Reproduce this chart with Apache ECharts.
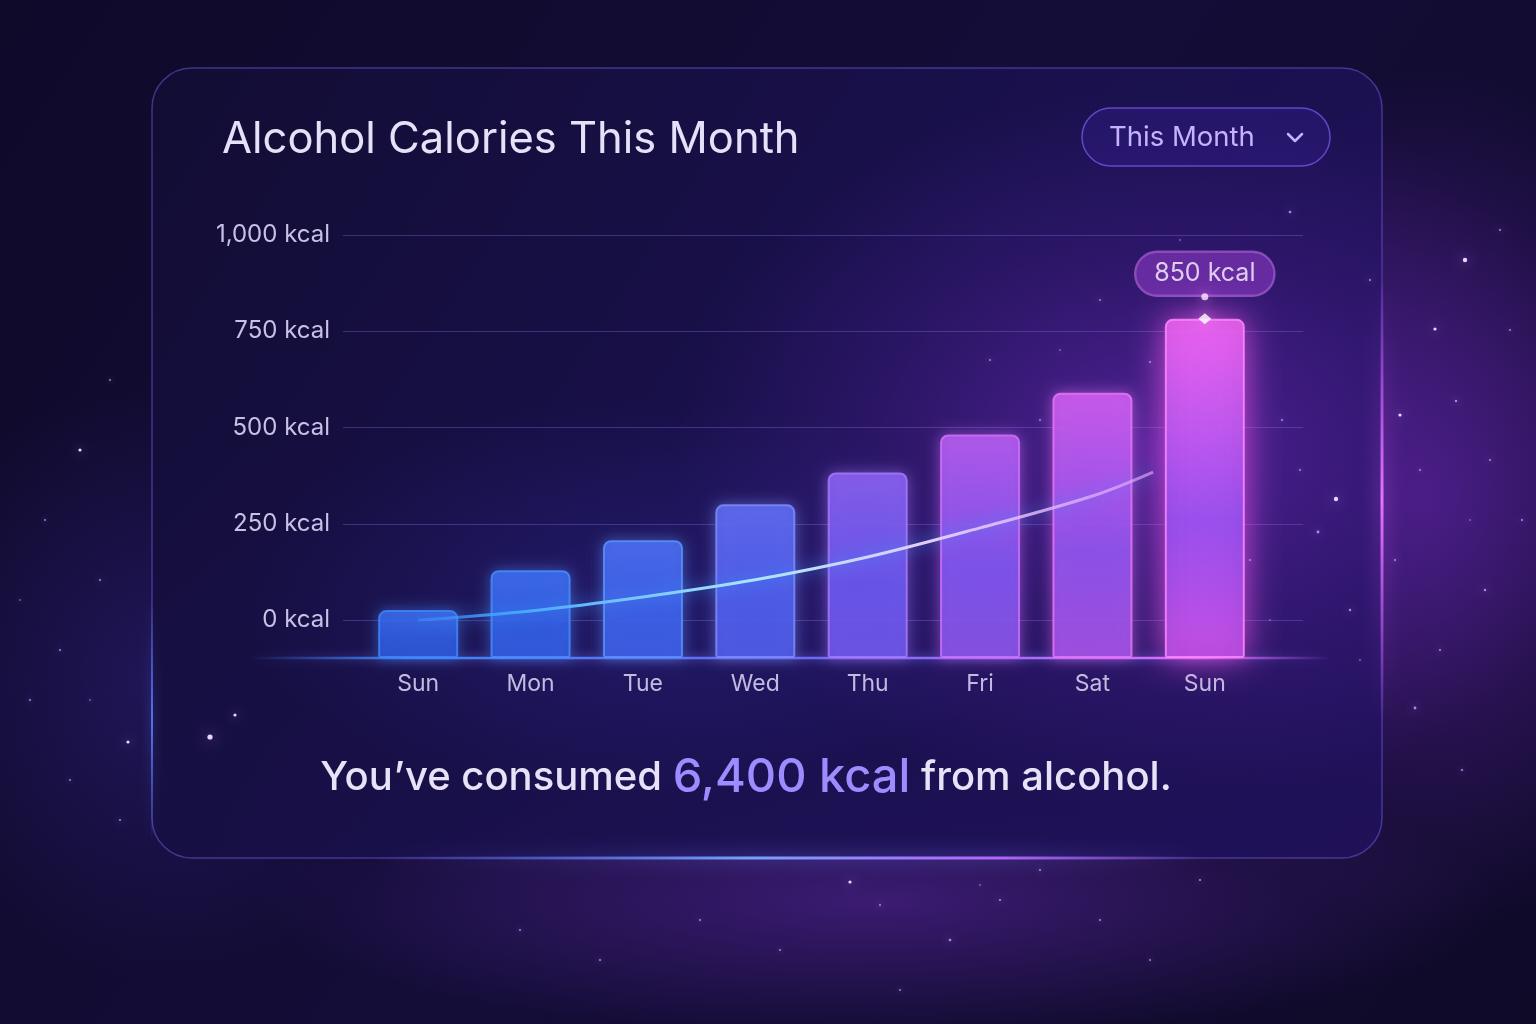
<!DOCTYPE html>
<html><head><meta charset="utf-8">
<script src="https://cdn.jsdelivr.net/npm/echarts@6/dist/echarts.min.js"></script>
<style>html,body{margin:0;padding:0;background:#120c30;}#c{width:1536px;height:1024px;}</style>
</head><body><div id="c"></div>
<script>
// ---- data ----
const days = ['Sun', 'Mon', 'Tue', 'Wed', 'Thu', 'Fri', 'Sat', 'Sun'];
const calories = [120, 220, 295, 385, 465, 560, 665, 850];
const trendPos = [0.5, 1.5, 2.5, 3.5, 4.5, 5.5, 6.5, 7.04];
const trendValues = [95, 118, 153, 196, 253, 326, 406, 466];
const yTicks = [0, 250, 500, 750, 1000];
const highlightIndex = 7;
const titleText = 'Alcohol Calories This Month';
const periodText = 'This Month';
const totalText = '6,400 kcal';

// ---- styles ----
const FONT = 'Inter, "Noto Sans", sans-serif';
const barTop    = ['#3a6aef', '#3c6cf3', '#4a6cf5', '#5e6af6', '#8a60f4', '#b85cf2', '#d05cf2', '#f266f4'];
const barMid    = ['#2d58de', '#305ce6', '#3b5eec', '#4c5cf0', '#6656f2', '#7a54f2', '#8a52f0', '#8e50f2'];
const barBot    = ['#2b52d6', '#2e58e0', '#3a5ae6', '#4c58ea', '#6a54ec', '#8452e8', '#a050e6', '#c250e8'];
const barBorder = ['#4088ff', '#4c8eff', '#5c94ff', '#7e8eff', '#a87aff', '#d272ff', '#ec74fa', '#ff8aff'];

const chart = echarts.init(document.getElementById('c'), null, {renderer: 'canvas'});

const barData = calories.map((v, i) => {
  const item = {
    value: v,
    itemStyle: {
      color: {type: 'linear', x: 0, y: 0, x2: 0, y2: 1, colorStops: [
        {offset: 0, color: barTop[i]}, {offset: 0.6, color: barMid[i]}, {offset: 1, color: barBot[i]}]},
      opacity: 0.82,
      borderColor: barBorder[i],
      borderWidth: 2,
      borderRadius: [7, 7, 2, 2],
      shadowBlur: i === highlightIndex ? 32 : 14,
      shadowColor: i === highlightIndex ? 'rgba(255,90,245,0.9)' : barBorder[i] + '99'
    }
  };
  if (i === highlightIndex) {
    item.label = {
      show: true, position: 'top', distance: 23,
      formatter: '{c} kcal',
      color: '#fbf2ff', fontSize: 25, fontFamily: FONT, lineHeight: 26,
      backgroundColor: 'rgba(160,66,215,0.6)',
      borderColor: 'rgba(230,150,255,0.55)', borderWidth: 1.2,
      borderRadius: 22, padding: [9, 19]
    };
  }
  return item;
});

const stars = [
  [1465,260,2.2],[1435,329,1.6],[1456,401,1.2],[1400,415,1.6],[1336,499,2.2],[1318,532,1.4],
  [1485,590,1.2],[1415,708,1.4],[1500,230,1],[1490,460,1],[1522,520,1],[1440,650,1],[1462,770,1.1],
  [1350,610,1.2],[1395,560,1],[1510,330,0.9],[1370,280,1],[1420,470,0.9],[1470,520,0.8],[1360,660,0.8],
  [210,737,2.6],[235,715,1.6],[128,742,1.6],[80,450,1.6],[100,580,1],[60,650,1],[120,820,1],[30,700,1],
  [45,520,0.9],[110,380,0.9],[70,780,0.9],[20,600,0.8],[90,700,0.8],
  [850,882,1.6],[1000,900,1.1],[950,940,1.3],[700,920,1],[1100,920,1],[600,960,1],[1200,880,1.1],
  [1040,870,1],[780,950,0.9],[900,990,0.9],[1150,960,0.9],[520,930,0.9],[880,905,0.9],[980,885,0.8],
  [1290,212,1.3],[1282,420,1],[1150,362,1],[1250,560,1],[1100,300,0.9],[1040,420,0.9],[990,360,0.9],
  [1180,240,0.8],[1060,350,0.8],[1300,470,0.9],[1270,620,0.8]
];

// soft elliptical glow: a circle with a radial gradient, stretched by scaleX/scaleY
function glow(cx, cy, rx, ry, stops, z) {
  const r = Math.min(rx, ry);
  return {type: 'circle', z: z, x: cx, y: cy, scaleX: rx / r, scaleY: ry / r, shape: {cx: 0, cy: 0, r: r},
    style: {fill: {type: 'radial', x: 0.5, y: 0.5, r: 0.5, colorStops: stops}}, silent: true};
}

const graphics = [
  glow(1430, 500, 330, 430, [{offset: 0, color: 'rgba(110,40,190,0.5)'}, {offset: 1, color: 'rgba(110,40,190,0)'}], -20),
  glow(880, 900, 620, 140, [{offset: 0, color: 'rgba(120,50,210,0.4)'}, {offset: 1, color: 'rgba(120,50,210,0)'}], -20),
  glow(160, 680, 260, 300, [{offset: 0, color: 'rgba(60,40,160,0.35)'}, {offset: 1, color: 'rgba(60,40,160,0)'}], -20),
  // card
  {type: 'rect', z: -15, shape: {x: 152, y: 68, width: 1230, height: 790, r: 40},
   style: {fill: {type: 'linear', x: 0, y: 0, x2: 1, y2: 1, colorStops: [{offset: 0, color: 'rgba(18,13,52,0.95)'}, {offset: 0.55, color: 'rgba(26,17,80,0.9)'}, {offset: 1, color: 'rgba(32,17,92,0.88)'}]},
           stroke: 'rgba(105,85,210,0.55)', lineWidth: 1.5}, silent: true},
  // inner glows
  glow(1150, 450, 480, 360, [{offset: 0, color: 'rgba(150,55,235,0.45)'}, {offset: 0.6, color: 'rgba(120,45,210,0.17)'}, {offset: 1, color: 'rgba(120,45,210,0)'}], -12),
  glow(640, 600, 400, 200, [{offset: 0, color: 'rgba(70,60,220,0.22)'}, {offset: 1, color: 'rgba(70,60,220,0)'}], -12),
  // card edge glows
  {type: 'line', z: -10, shape: {x1: 1382, y1: 280, x2: 1382, y2: 720}, style: {stroke: {type: 'linear', x: 0, y: 0, x2: 0, y2: 1, colorStops: [{offset: 0, color: 'rgba(200,90,255,0)'}, {offset: 0.5, color: 'rgba(230,115,255,1)'}, {offset: 1, color: 'rgba(200,90,255,0)'}]}, lineWidth: 3, shadowBlur: 18, shadowColor: 'rgba(225,100,255,1)'}, silent: true},
  {type: 'line', z: -10, shape: {x1: 152, y1: 600, x2: 152, y2: 840}, style: {stroke: {type: 'linear', x: 0, y: 0, x2: 0, y2: 1, colorStops: [{offset: 0, color: 'rgba(80,120,255,0)'}, {offset: 0.5, color: 'rgba(90,130,255,0.8)'}, {offset: 1, color: 'rgba(80,120,255,0)'}]}, lineWidth: 2, shadowBlur: 10, shadowColor: 'rgba(90,130,255,0.8)'}, silent: true},
  {type: 'line', z: -10, shape: {x1: 380, y1: 858, x2: 1200, y2: 858}, style: {stroke: {type: 'linear', x: 0, y: 0, x2: 1, y2: 0, colorStops: [{offset: 0, color: 'rgba(80,110,255,0)'}, {offset: 0.45, color: 'rgba(120,160,255,1)'}, {offset: 0.75, color: 'rgba(185,105,255,0.95)'}, {offset: 1, color: 'rgba(180,100,255,0)'}]}, lineWidth: 3, shadowBlur: 18, shadowColor: 'rgba(120,120,255,1)'}, silent: true},
  // baseline glow
  {type: 'line', z: 3, shape: {x1: 250, y1: 658, x2: 1330, y2: 658}, style: {stroke: {type: 'linear', x: 0, y: 0, x2: 1, y2: 0, colorStops: [{offset: 0, color: 'rgba(60,130,255,0)'}, {offset: 0.15, color: 'rgba(60,140,255,0.95)'}, {offset: 0.5, color: 'rgba(110,110,255,0.9)'}, {offset: 0.88, color: 'rgba(220,110,255,1)'}, {offset: 1, color: 'rgba(200,100,255,0)'}]}, lineWidth: 2.5, shadowBlur: 10, shadowColor: 'rgba(120,120,255,0.9)'}, silent: true},
  // title
  {type: 'text', z: 10, x: 222, y: 140, style: {text: titleText, fill: '#e6e0f8', font: '400 43.5px ' + FONT, textVerticalAlign: 'middle', verticalAlign: 'middle'}, silent: true},
  // dropdown
  {type: 'rect', z: 10, shape: {x: 1082, y: 108, width: 248, height: 58, r: 29}, style: {fill: 'rgba(55,32,150,0.35)', stroke: 'rgba(120,88,235,0.75)', lineWidth: 1.5}, silent: true},
  {type: 'text', z: 11, x: 1109, y: 138, style: {text: periodText, fill: '#c6b2ff', font: '400 27.5px ' + FONT, verticalAlign: 'middle', textVerticalAlign: 'middle'}, silent: true},
  {type: 'polyline', z: 11, shape: {points: [[1288, 134], [1295, 141], [1302, 134]]}, style: {stroke: '#c6b2ff', lineWidth: 2.5, fill: null, lineCap: 'round', lineJoin: 'round'}, silent: true},
  // summary sentence
  {type: 'text', z: 10, x: 746, y: 778, style: {
    text: '{a|You\u2019ve consumed }{b|' + totalText + '}{a| from alcohol.}',
    align: 'center', verticalAlign: 'middle', textAlign: 'center', textVerticalAlign: 'middle',
    rich: {
      a: {fill: '#e8e2f8', color: '#e8e2f8', fontSize: 40, fontFamily: FONT, fontWeight: 500},
      b: {fill: '#9c8cff', color: '#9c8cff', fontSize: 47, fontFamily: FONT, fontWeight: 500}
    }}, silent: true}
];
stars.forEach(s => graphics.push({type: 'circle', z: -9, shape: {cx: s[0], cy: s[1], r: s[2]},
  style: {fill: s[2] > 1.5 ? '#e8d8ff' : 'rgba(200,170,255,0.8)', shadowBlur: s[2] * 5, shadowColor: 'rgba(170,110,255,0.95)'}, silent: true}));

const option = {
  backgroundColor: {type: 'linear', x: 0, y: 0, x2: 1, y2: 1, colorStops: [{offset: 0, color: '#0f0a2a'}, {offset: 0.5, color: '#140d38'}, {offset: 1, color: '#0f0a28'}]},
  animation: false,
  textStyle: {fontFamily: FONT},
  graphic: graphics,
  grid: [
    {left: 343, width: 960, top: 235, height: 385},
    {left: 362, width: 899, top: 235, height: 423}
  ],
  xAxis: [
    {gridIndex: 0, type: 'category', data: days, show: false},
    {gridIndex: 1, type: 'category', data: days, axisLine: {show: false}, axisTick: {show: false},
     axisLabel: {color: '#c2badf', fontSize: 23, margin: 15, fontFamily: FONT}},
    {gridIndex: 1, type: 'value', min: 0, max: days.length, show: false}
  ],
  yAxis: [
    {gridIndex: 0, type: 'value', min: yTicks[0], max: yTicks[yTicks.length - 1], interval: yTicks[1] - yTicks[0],
     axisLine: {show: false}, axisTick: {show: false},
     axisLabel: {color: '#c8c0e6', fontSize: 24, margin: 13, fontFamily: FONT,
       formatter: v => v.toLocaleString('en-US') + ' kcal'},
     splitLine: {lineStyle: {color: 'rgba(125,105,215,0.38)', width: 1}}},
    {gridIndex: 1, type: 'value', min: 0, max: 1060, show: false}
  ],
  series: [
    {type: 'bar', xAxisIndex: 1, yAxisIndex: 1, data: barData, barWidth: 80, z: 3},
    {type: 'line', xAxisIndex: 2, yAxisIndex: 1, smooth: 0.35, symbol: 'none', z: 6,
     data: trendPos.map((x, i) => [x, trendValues[i]]),
     lineStyle: {width: 3,
       color: {type: 'linear', x: 0, y: 0, x2: 1, y2: 0, colorStops: [
         {offset: 0, color: 'rgba(70,150,255,0.4)'}, {offset: 0.12, color: '#3fa2ff'},
         {offset: 0.45, color: '#a8e6ff'}, {offset: 0.7, color: '#e2ccff'}, {offset: 1, color: 'rgba(235,170,255,0.6)'}]},
       shadowBlur: 16, shadowColor: 'rgba(60,150,255,1)'}},
    {type: 'scatter', xAxisIndex: 1, yAxisIndex: 1, z: 7, symbol: 'diamond', symbolSize: [13, 11],
     data: [[highlightIndex, calories[highlightIndex]]],
     itemStyle: {color: '#ffffff', shadowBlur: 14, shadowColor: 'rgba(255,140,255,1)'}},
    {type: 'scatter', xAxisIndex: 1, yAxisIndex: 1, z: 7, symbol: 'circle', symbolSize: 7, symbolOffset: [0, -22],
     data: [[highlightIndex, calories[highlightIndex]]],
     itemStyle: {color: '#ffe6ff', shadowBlur: 12, shadowColor: 'rgba(255,120,255,1)'}}
  ]
};
chart.setOption(option);
</script>
</body></html>
